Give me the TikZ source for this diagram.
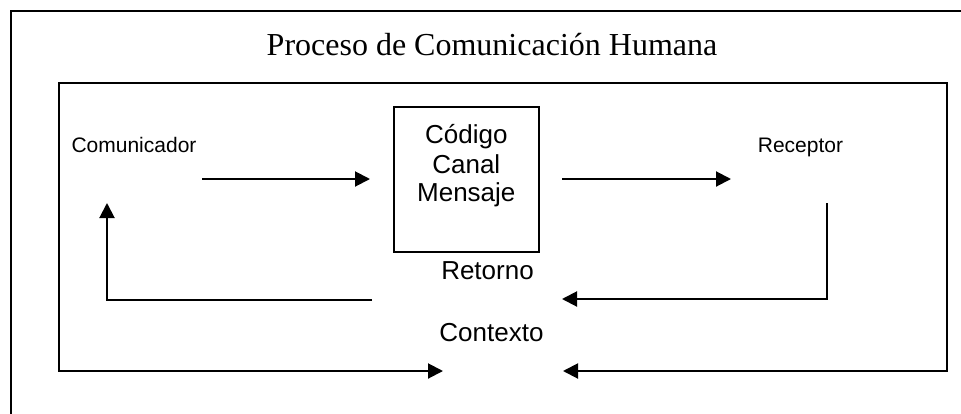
\documentclass[tikz,border=0pt]{standalone}
\usepackage{fontspec}
\setmainfont{Liberation Serif}
\newfontfamily\arialf{Liberation Sans}
\usetikzlibrary{arrows.meta}
\tikzset{
  frameline/.style={line width=1.8pt, line cap=rect},
  conn/.style={line width=2pt, -{Triangle[length=15pt,width=15pt]}},
  lbl/.style={font=\arialf\fontsize{21}{25}\selectfont, inner sep=0pt, anchor=base},
  biglbl/.style={font=\arialf\fontsize{26}{29}\selectfont, inner sep=0pt, anchor=base},
  boxstyle/.style={draw, line width=1.6pt, minimum width=145pt, minimum height=145pt, inner sep=0pt},
}
\begin{document}
\begin{tikzpicture}[x=1pt,y=-1pt]
\useasboundingbox (0,0) rectangle (961,413);
% outer frame (clipped at right and bottom)
\draw[frameline] (11,420) -- (11,11) -- (970,11);
% title
\node[font=\fontsize{32}{36}\selectfont, inner sep=0pt, anchor=base] (title) at (492,55) {Proceso de Comunicación Humana};
% labels
\node[lbl] (com) at (134,152) {Comunicador};
\node[lbl] (rec) at (800.5,152) {Receptor};
\node[boxstyle] (box) at (466.5,179.5) {};
\node[biglbl] (cod) at (466.3,143.3) {Código};
\node[biglbl] (can) at (466.3,173.3) {Canal};
\node[biglbl] (men) at (466.3,201.7) {Mensaje};
\node[biglbl] (ret) at (487.5,279) {Retorno};
\node[biglbl] (ctx) at (491.5,341) {Contexto};
% coordinates
\coordinate (a1s) at (202,179);
\coordinate (a1e) at (370,179);
\coordinate (a2s) at (562,179);
\coordinate (a2e) at (731,179);
\coordinate (rs) at (827,203);
\coordinate (rc) at (827,299);
\coordinate (re) at (562,299);
\coordinate (fs) at (372,300);
\coordinate (fc) at (107,300);
\coordinate (fe) at (107,203);
\coordinate (tl) at (59,83);
\coordinate (tr) at (947,83);
\coordinate (bl) at (59,371);
\coordinate (br) at (947,371);
\coordinate (ble) at (443,371);
\coordinate (bre) at (563,371);
% inner frame
\draw[frameline] (bl) -- (tl) -- (tr) -- (br);
% connectors
\draw[conn] (a1s) -- (a1e);
\draw[conn] (a2s) -- (a2e);
\draw[conn] (rs) -- (rc) -- (re);
\draw[conn] (fs) -- (fc) -- (fe);
\draw[conn] (bl) -- (ble);
\draw[conn] (br) -- (bre);
\end{tikzpicture}
\end{document}
